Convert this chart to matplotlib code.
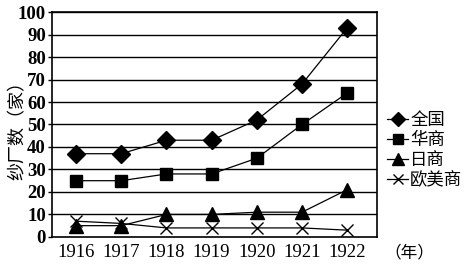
import matplotlib
matplotlib.use("Agg")
import matplotlib.pyplot as plt

# ── data ─────────────────────────────────────────────────────────────────────

YEARS     = [1916, 1917, 1918, 1919, 1920, 1921, 1922]
QUANGUO   = [37, 37, 43, 43, 52, 68, 93]   # 全国
HUASHANG  = [25, 25, 28, 28, 35, 50, 64]   # 华商
RISHANG   = [5, 5, 10, 10, 11, 11, 21]     # 日商
OUMEI     = [7, 6, 4, 4, 4, 4, 3]          # 欧美商
Y_TICKS   = list(range(0, 101, 10))

CJK = ["Noto Sans CJK SC", "DejaVu Sans"]
NUM = "Liberation Serif"

# ── plot ─────────────────────────────────────────────────────────────────────

fig = plt.figure(figsize=(4.69, 2.68), dpi=100)
ax = fig.add_axes([0.111, 0.116, 0.693, 0.839])

ax.set_xlim(1915.47, 1922.66)
ax.set_ylim(0, 100)

for y in Y_TICKS[1:]:
    ax.axhline(y, color="black", lw=1.0, zorder=1)

kw = dict(color="black", lw=0.9, zorder=3)
ax.plot(YEARS, QUANGUO, marker="D", ms=9, label="全国", **kw)
ax.plot(YEARS, HUASHANG, marker="s", ms=8.5, label="华商", **kw)
ax.plot(YEARS, RISHANG, marker="^", ms=10.5, label="日商", **kw)
ax.plot(YEARS, OUMEI, marker="x", ms=8.5, mew=1.0, label="欧美商", **kw)

for side in ax.spines.values():
    side.set_linewidth(1.2)
    side.set_color("black")

ax.set_xticks(YEARS)
ax.set_xticklabels([str(y) for y in YEARS], fontfamily=NUM, fontsize=13.5)
ax.set_yticks(Y_TICKS)
ax.set_yticklabels([str(y) for y in Y_TICKS], fontfamily=NUM, fontsize=13.5,
                   fontweight="bold")
ax.tick_params(axis="x", length=0, pad=5)
ax.tick_params(axis="y", length=3, width=1.0, pad=1.5)

fig.text(0.038, 0.53, "纱厂数（家）", rotation=90, va="center", ha="center",
         fontsize=13, family=CJK)
fig.text(0.873, 0.055, "（年）", va="center", ha="center", fontsize=12,
         family=CJK)

ax.legend(loc="center left", bbox_to_anchor=(1.0, 0.385), frameon=False,
          prop=dict(family=CJK, size=12.5), handlelength=1.2, handletextpad=0.1,
          labelspacing=0.12, borderaxespad=0.4, borderpad=0.2, numpoints=1,
          markerscale=0.8)

fig.savefig("out.png", dpi=100)
